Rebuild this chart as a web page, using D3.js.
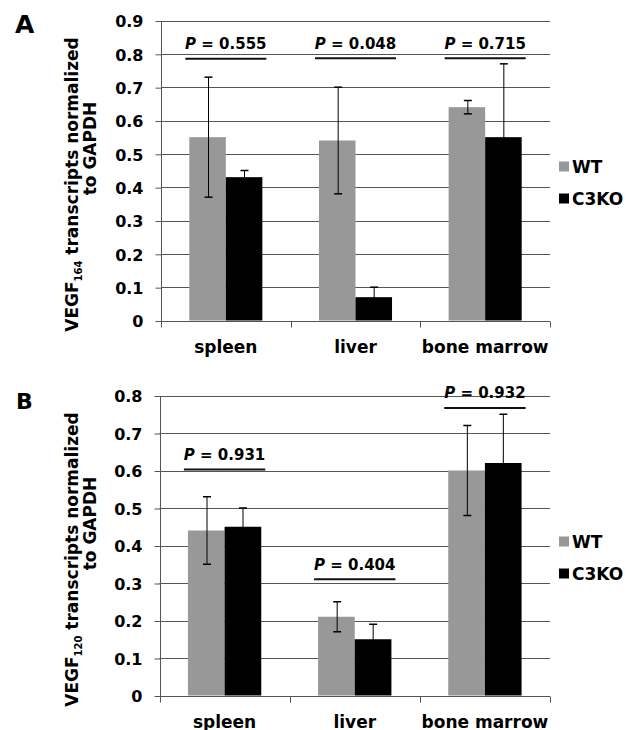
<!DOCTYPE html>
<html>
<head>
<meta charset="utf-8">
<script src="https://cdn.jsdelivr.net/npm/d3@7"></script>
<style>
  html, body { margin: 0; padding: 0; background: #fff; }
  svg { display: block; }
  text { font-family: "DejaVu Sans", "Liberation Sans", Arial, sans-serif; font-weight: bold; fill: #000; }
</style>
</head>
<body>
<svg id="chart" width="638" height="730"></svg>
<script>
// ---------- data ----------
const categories = ["spleen", "liver", "bone marrow"];
const series = ["WT", "C3KO"];

// Panel A: VEGF164
const aWT      = [0.55, 0.54, 0.64];
const aWTErr   = [0.18, 0.16, 0.02];
const aKO      = [0.43, 0.07, 0.55];
const aKOErr   = [0.02, 0.03, 0.22];
const aPValues = ["0.555", "0.048", "0.715"];
const aPLevel  = [0.785, 0.787, 0.787];
const aTicks   = [0, 0.1, 0.2, 0.3, 0.4, 0.5, 0.6, 0.7, 0.8, 0.9];
const aGeneSub = "164";

// Panel B: VEGF120
const bWT      = [0.44, 0.21, 0.60];
const bWTErr   = [0.09, 0.04, 0.12];
const bKO      = [0.45, 0.15, 0.62];
const bKOErr   = [0.05, 0.04, 0.13];
const bPValues = ["0.931", "0.404", "0.932"];
const bPLevel  = [0.603, 0.31, 0.767];
const bTicks   = [0, 0.1, 0.2, 0.3, 0.4, 0.5, 0.6, 0.7, 0.8];
const bGeneSub = "120";

const seriesColors = ["#989898", "#000000"];

// ---------- drawing ----------
const svg = d3.select("#chart");

function drawPanel(opt) {
  const g = svg.append("g");
  const yMax = opt.ticks[opt.ticks.length - 1];
  const y = d3.scaleLinear().domain([0, yMax]).range([opt.bottom, opt.top]);
  const x0 = d3.scaleBand().domain(categories).range([opt.left, opt.right]).padding(0);
  const x1 = d3.scaleBand().domain(series).range([0, x0.bandwidth()])
    .paddingInner(0).paddingOuter(0.775);

  // gridlines
  g.append("g").selectAll("line").data(opt.ticks.filter(t => t > 0)).join("line")
    .attr("x1", opt.left).attr("x2", opt.right)
    .attr("y1", d => Math.round(y(d)) + 0.5).attr("y2", d => Math.round(y(d)) + 0.5)
    .attr("stroke", "#555").attr("stroke-width", 1);

  // y axis
  const yAxis = d3.axisLeft(y).tickValues(opt.ticks).tickSize(6).tickPadding(12)
    .tickFormat(d => d === 0 ? "0" : d3.format(".1f")(d));
  const ya = g.append("g").attr("transform", `translate(${Math.round(opt.left) + 0.5},0.5)`).call(yAxis);
  ya.select(".domain").attr("stroke", "#555").attr("d", `M0,${opt.top}V${opt.bottom}`);
  ya.selectAll(".tick line").attr("stroke", "#555");
  ya.selectAll(".tick text").attr("font-size", 16).attr("font-family", "DejaVu Sans")
    .attr("font-weight", "bold").attr("fill", "#000").attr("dy", "0.36em");

  // bars
  const groups = g.append("g").selectAll("g").data(categories).join("g")
    .attr("transform", d => `translate(${x0(d)},0)`);
  groups.each(function(cat, ci) {
    const vals = [opt.wt[ci], opt.ko[ci]];
    const errs = [opt.wtErr[ci], opt.koErr[ci]];
    const sg = d3.select(this);
    sg.selectAll("rect").data(series).join("rect")
      .attr("x", s => x1(s)).attr("width", x1.bandwidth())
      .attr("y", (s, i) => y(vals[i])).attr("height", (s, i) => y(0) - y(vals[i]))
      .attr("fill", (s, i) => seriesColors[i]);
    // error bars
    series.forEach((s, i) => {
      const cx = Math.round(x1(s) + x1.bandwidth() / 2) + 0.5;
      const hi = y(vals[i] + errs[i]), lo = y(vals[i] - errs[i]);
      sg.append("line").attr("x1", cx).attr("x2", cx).attr("y1", hi).attr("y2", lo)
        .attr("stroke", "#000").attr("stroke-width", 1);
      [hi, lo].forEach(yy => sg.append("line").attr("x1", cx - 4).attr("x2", cx + 4)
        .attr("y1", yy).attr("y2", yy).attr("stroke", "#000").attr("stroke-width", 1.5));
    });
  });

  // x axis
  const xa = g.append("g").attr("transform", `translate(0,${Math.round(opt.bottom) + 0.5})`);
  xa.append("line").attr("x1", opt.left).attr("x2", opt.right).attr("stroke", "#555");
  const bounds = [opt.left].concat(categories.map(c => x0(c) + x0.bandwidth()));
  xa.selectAll("line.tk").data(bounds).join("line").attr("class", "tk")
    .attr("x1", d => Math.round(d) + 0.5).attr("x2", d => Math.round(d) + 0.5)
    .attr("y1", 0).attr("y2", 6).attr("stroke", "#555");
  xa.selectAll("text").data(categories).join("text")
    .attr("x", d => x0(d) + x0.bandwidth() / 2).attr("y", 31)
    .attr("text-anchor", "middle").attr("font-size", 17).text(d => d);

  // p-value annotations
  categories.forEach((cat, ci) => {
    const gx0 = x0(cat) + x1(series[0]) - 4;
    const gx1 = x0(cat) + x1(series[1]) + x1.bandwidth() + 4;
    const ly = y(opt.pLevel[ci]);
    g.append("line").attr("x1", gx0).attr("x2", gx1).attr("y1", ly).attr("y2", ly)
      .attr("stroke", "#111").attr("stroke-width", 2);
    const t = g.append("text").attr("x", (gx0 + gx1) / 2).attr("y", ly - 9.5)
      .attr("text-anchor", "middle").attr("font-size", 15);
    t.append("tspan").attr("font-style", "italic").text("P");
    t.append("tspan").text(" = " + opt.pValues[ci]);
  });

  // y axis title
  const midY = (opt.top + opt.bottom) / 2;
  const t1 = g.append("text").attr("transform", `translate(78,${midY + 14}) rotate(-90)`)
    .attr("text-anchor", "middle").attr("font-size", 17);
  t1.append("tspan").text("VEGF");
  t1.append("tspan").attr("font-size", 10).attr("dy", 4).text(opt.geneSub);
  t1.append("tspan").attr("dy", -4).text(" transcripts normalized");
  g.append("text").attr("transform", `translate(95.5,${midY - 22}) rotate(-90)`)
    .attr("text-anchor", "middle").attr("font-size", 17).text("to GAPDH");

  // legend
  series.forEach((s, i) => {
    const cy = midY - 4 + i * 32;
    g.append("rect").attr("x", 559).attr("y", cy - 5).attr("width", 10).attr("height", 10)
      .attr("fill", seriesColors[i]);
    g.append("text").attr("x", 572).attr("y", cy).attr("dy", "0.36em")
      .attr("font-size", 17).text(s);
  });

  // panel letter
  g.append("text").attr("x", opt.letterX).attr("y", opt.letterY)
    .attr("font-size", opt.letterSize).text(opt.letter);
}

drawPanel({
  wt: aWT, wtErr: aWTErr, ko: aKO, koErr: aKOErr, pValues: aPValues, pLevel: aPLevel,
  ticks: aTicks, geneSub: aGeneSub,
  left: 161, right: 550, top: 20.5, bottom: 320.5,
  letter: "A", letterX: 15, letterY: 33, letterSize: 25
});
drawPanel({
  wt: bWT, wtErr: bWTErr, ko: bKO, koErr: bKOErr, pValues: bPValues, pLevel: bPLevel,
  ticks: bTicks, geneSub: bGeneSub,
  left: 159.5, right: 550, top: 395.5, bottom: 695.5,
  letter: "B", letterX: 16, letterY: 409, letterSize: 22
});
</script>
</body>
</html>
